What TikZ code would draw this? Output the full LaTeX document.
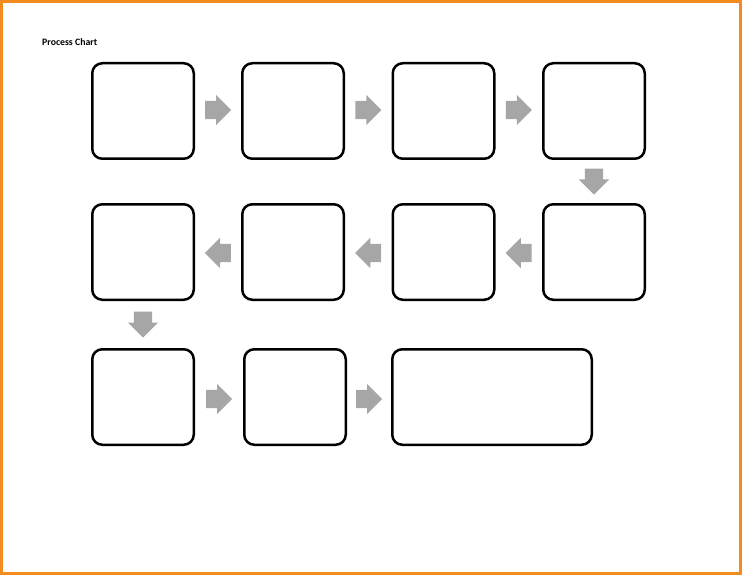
\documentclass[tikz,border=0pt]{standalone}
\usepackage{fontspec}
\setmainfont{Carlito}
\usepackage{xcolor}
\usetikzlibrary{shapes.arrows,calc}
\definecolor{frameorange}{HTML}{F28C1E}
\definecolor{arrowgray}{HTML}{A6A6A6}

\begin{document}
\begin{tikzpicture}[x=1pt, y=-1pt,
    stepbox/.style={rectangle, draw, line width=2.5pt, rounded corners=10pt, minimum width=101.5pt, minimum height=95.5pt, inner sep=0pt},
    blockarrow/.style={single arrow, fill=arrowgray, draw=none, anchor=tail, minimum height=26pt, inner xsep=0pt, inner ysep=9pt, single arrow head extend=6pt},
    downarrow/.style={blockarrow, inner xsep=9pt, inner ysep=0pt, shape border rotate=270},
    leftarrow/.style={blockarrow, shape border rotate=180}]
            \useasboundingbox (0, 0) rectangle (742, 575);
            \draw [frameorange, line width=3pt] (1.5, 1.5) rectangle (740.5, 573.5);
            \node (title) at (42, 46) [anchor=base west, inner sep=0pt, font=\fontsize{9.8}{11}\selectfont\bfseries] {Process Chart};
            % first row
            \node (b1) at (143, 111) [stepbox] {};
            \node (b2) at (293, 111) [stepbox] {};
            \node (b3) at (443.5, 111) [stepbox] {};
            \node (b4) at (594, 111) [stepbox] {};
            % second row
            \node (b5) at (594, 252) [stepbox] {};
            \node (b6) at (443.5, 252) [stepbox] {};
            \node (b7) at (293, 252) [stepbox] {};
            \node (b8) at (143, 252) [stepbox] {};
            % third row
            \node (b9) at (143, 397) [stepbox] {};
            \node (b10) at (295, 397) [stepbox] {};
            \node (b11) at (492, 397) [stepbox, minimum width=199.5pt] {};
            % arrows
            \node (a1) at ($(b1.east)!0.5!(b2.west)+(-13,-1)$) [blockarrow] {};
            \node (a2) at ($(b2.east)!0.5!(b3.west)+(-13,-1)$) [blockarrow] {};
            \node (a3) at ($(b3.east)!0.5!(b4.west)+(-13,-1)$) [blockarrow] {};
            \node (a4) at ($(b4.south)!0.5!(b5.north)+(0,-13)$) [downarrow] {};
            \node (a5) at ($(b5.west)!0.5!(b6.east)+(13,1)$) [leftarrow] {};
            \node (a6) at ($(b6.west)!0.5!(b7.east)+(13,1)$) [leftarrow] {};
            \node (a7) at ($(b7.west)!0.5!(b8.east)+(13,1)$) [leftarrow] {};
            \node (a8) at ($(b8.south)!0.5!(b9.north)+(0,-13)$) [downarrow] {};
            \node (a9) at ($(b9.east)!0.5!(b10.west)+(-13,2)$) [blockarrow] {};
            \node (a10) at ($(b10.east)!0.5!(b11.west)+(-13,2)$) [blockarrow] {};
        \end{tikzpicture}
\end{document}
